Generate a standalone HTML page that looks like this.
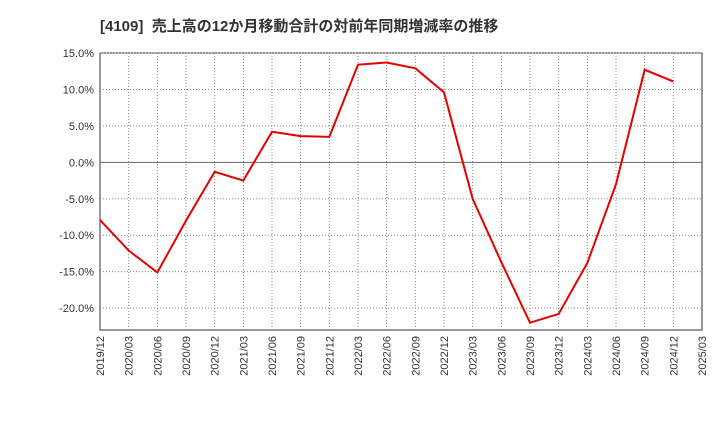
<!DOCTYPE html>
<html><head><meta charset="utf-8"><style>
body{margin:0;background:#fff;font-family:"Liberation Sans","Noto Sans CJK JP",sans-serif;}
</style></head><body>
<svg width="720" height="440" xmlns="http://www.w3.org/2000/svg" id="chart">
<text x="100" y="31" font-size="15" font-weight="bold" fill="#333" font-family="Liberation Sans, Noto Sans CJK JP, sans-serif">[4109]&#160; 売上高の12か月移動合計の対前年同期増減率の推移</text>
<g id="grid"></g><g id="axes"></g><g id="series"></g>
</svg>
<script>
const categories=["2019/12","2020/03","2020/06","2020/09","2020/12","2021/03","2021/06","2021/09","2021/12","2022/03","2022/06","2022/09","2022/12","2023/03","2023/06","2023/09","2023/12","2024/03","2024/06","2024/09","2024/12","2025/03"];
const values=[-7.9,-12.1,-15.1,-8.0,-1.3,-2.5,4.2,3.6,3.5,13.4,13.7,12.9,9.6,-5.0,-13.7,-22.0,-20.8,-13.8,-3.0,12.7,11.1];
const yTicks=[15,10,5,0,-5,-10,-15,-20];
const L=100,R=702,T=53,B=330,yMax=15,yMin=-23;
const ns="http://www.w3.org/2000/svg";
function x(i){return L+(R-L)*i/(categories.length-1);}
function y(v){return T+(yMax-v)/(yMax-yMin)*(B-T);}
function mk(tag,attrs,parent){const e=document.createElementNS(ns,tag);for(const k in attrs)e.setAttribute(k,attrs[k]);document.getElementById(parent).appendChild(e);return e;}
const bg=mk("rect",{x:L,y:T,width:R-L,height:B-T,fill:"#fff",stroke:"#333","stroke-width":1},"grid");


categories.forEach((c,i)=>{
 if(i>0&&i<categories.length-1){const g=mk("line",{x1:x(i),x2:x(i),y1:T,y2:B,stroke:"#888","stroke-dasharray":"1,2","stroke-width":1},"grid");
 
 }
 const t=mk("text",{x:0,y:0,"font-size":11,fill:"#333","text-anchor":"end",transform:`translate(${x(i)+4},${B+6}) rotate(-90)`},"axes");
 t.textContent=c;
 
 
});
yTicks.forEach(v=>{
 const g=mk("line",{x1:L,x2:R,y1:y(v),y2:y(v),stroke:v===0?"#666":"#888","stroke-dasharray":v===0?"none":"1,2","stroke-width":1},"grid");
 
 
 const t=mk("text",{x:L-6,y:y(v)+4,"font-size":11,fill:"#333","text-anchor":"end"},"axes");
 t.textContent=v.toFixed(1)+"%";
 
 
});
const pts=values.map((v,i)=>x(i)+","+y(v)).join(" ");
const line=mk("polyline",{points:pts,fill:"none",stroke:"#e60000","stroke-width":2},"series");


</script>
</body></html>
